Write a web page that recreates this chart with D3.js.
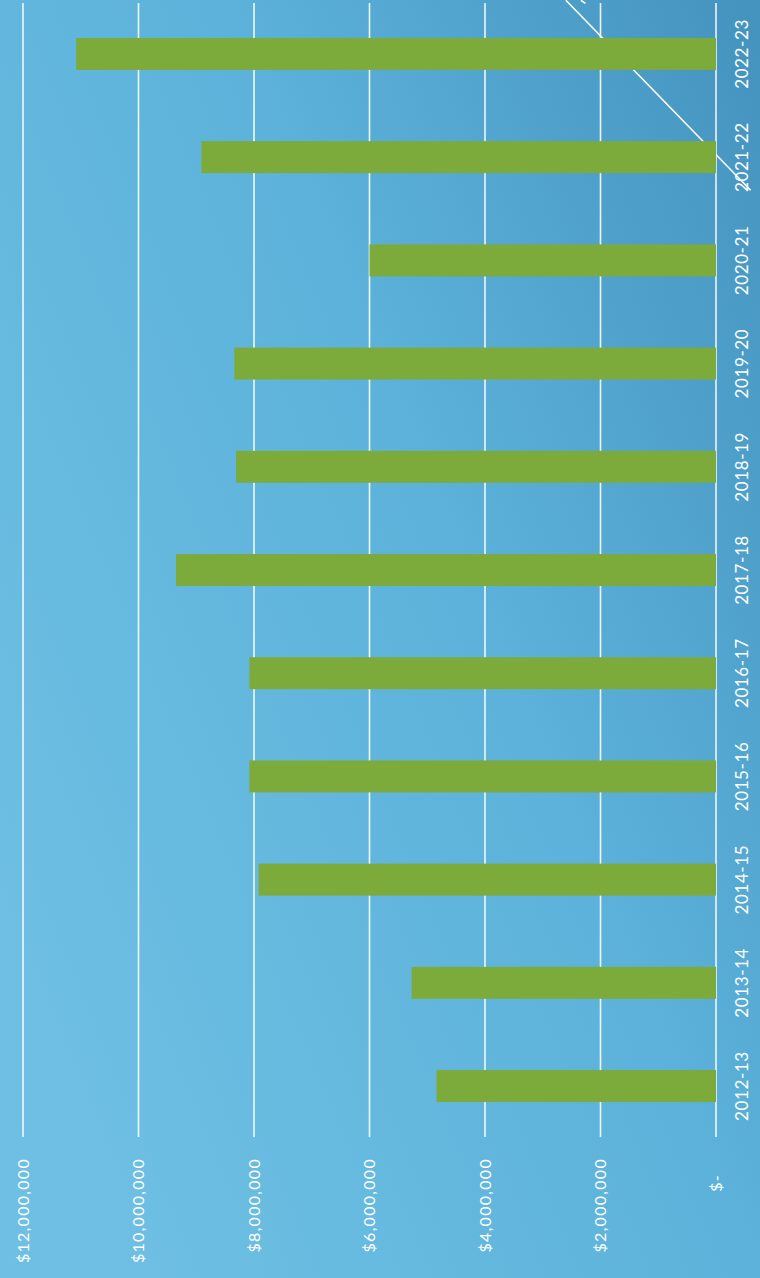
<!DOCTYPE html>
<html>
<head>
<meta charset="utf-8">
<script src="https://cdn.jsdelivr.net/npm/d3@7"></script>
<style>
  html, body { margin: 0; padding: 0; background: #5fb2da; }
  svg { display: block; }
  text { font-family: "Lato", "DejaVu Sans", sans-serif; fill: #ffffff; }
</style>
</head>
<body>
<div id="chart"></div>
<script>
// fiscal years, oldest at the bottom
const years = ["2012-13", "2013-14", "2014-15", "2015-16", "2016-17", "2017-18",
  "2018-19", "2019-20", "2020-21", "2021-22", "2022-23"];
const amounts = [4840000, 5270000, 7920000, 8080000, 8080000, 9350000,
  8310000, 8340000, 6000000, 8910000, 11080000];
const valueTicks = [0, 2000000, 4000000, 6000000, 8000000, 10000000, 12000000];
// decorative diagonal stroke, [value, year index position]
const trendLine = [[2600000, 10.52], [-600000, 8.68]];
const trendTick = [[2340000, 10.52], [2260000, 10.49]];

const width = 760,
  height = 1278;

const svg = d3.select("#chart")
  .append("svg")
  .attr("width", width)
  .attr("height", height);

// background gradient, lighter on the left, darker toward the top right
const defs = svg.append("defs");
const grad = defs.append("linearGradient")
  .attr("id", "bg")
  .attr("x1", "0").attr("y1", "0.75")
  .attr("x2", "1").attr("y2", "0.05");
grad.append("stop").attr("offset", "0%").attr("stop-color", "#6ebfe3");
grad.append("stop").attr("offset", "55%").attr("stop-color", "#5cb2da");
grad.append("stop").attr("offset", "100%").attr("stop-color", "#4594c0");

svg.append("rect")
  .attr("width", width)
  .attr("height", height)
  .attr("fill", "url(#bg)");

// scales: chart is turned on its side, values grow to the left
const x = d3.scaleLinear().domain([0, 12000000]).range([716, 23]);
const y = d3.scaleBand()
  .domain(years.slice().reverse())
  .range([7, 1133])
  .paddingInner(0.69)
  .paddingOuter(0.3);
const yIdx = d3.scaleLinear()
  .domain([0, years.length - 1])
  .range([y(years[0]) + y.bandwidth() / 2, y(years[years.length - 1]) + y.bandwidth() / 2]);

// gridlines
svg.append("g")
  .selectAll("line")
  .data(valueTicks)
  .join("line")
  .attr("x1", d => x(d))
  .attr("x2", d => x(d))
  .attr("y1", 3)
  .attr("y2", 1137)
  .attr("stroke", "#ffffff")
  .attr("stroke-opacity", 0.9)
  .attr("stroke-width", 1.6);

// value labels (read bottom to top)
const fmt = d => d === 0 ? "$-" : "$" + d3.format(",")(d);
svg.append("g")
  .selectAll("text")
  .data(valueTicks)
  .join("text")
  .attr("transform", d => `translate(${x(d) - 1}, ${d === 0 ? 1174 : 1158}) rotate(-90)`)
  .attr("text-anchor", "end")
  .attr("dominant-baseline", "central")
  .style("font-size", "16px")
  .style("letter-spacing", "1.3px")
  .text(fmt);

// diagonal stroke, sits behind the bars
const line = d3.line().x(d => x(d[0])).y(d => yIdx(d[1]));
svg.append("path")
  .attr("d", line(trendLine))
  .attr("fill", "none")
  .attr("stroke", "#ffffff")
  .attr("stroke-width", 1.6);
svg.append("path")
  .attr("d", line(trendTick))
  .attr("fill", "none")
  .attr("stroke", "#ffffff")
  .attr("stroke-width", 1.6);

// bars
svg.append("g")
  .selectAll("rect")
  .data(years)
  .join("rect")
  .attr("x", (d, i) => x(amounts[i]))
  .attr("y", d => y(d))
  .attr("width", (d, i) => x(0) - x(amounts[i]))
  .attr("height", y.bandwidth())
  .attr("fill", "#7cab3c");

// year labels
svg.append("g")
  .selectAll("text")
  .data(years)
  .join("text")
  .attr("transform", d => `translate(741, ${y(d) + y.bandwidth() / 2}) rotate(-90)`)
  .attr("text-anchor", "middle")
  .attr("dominant-baseline", "central")
  .style("font-size", "17px")
  .style("letter-spacing", "0.6px")
  .text(d => d);
</script>
</body>
</html>
